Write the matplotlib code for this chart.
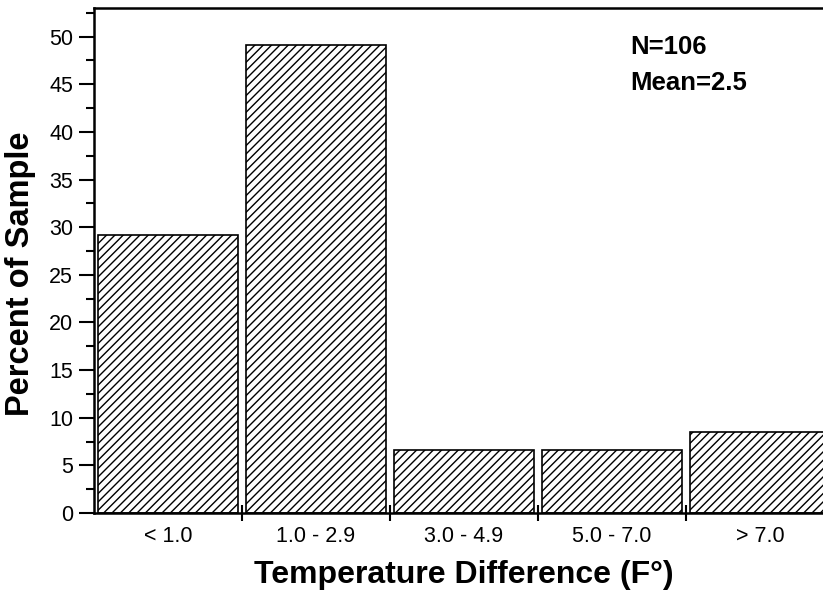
import matplotlib
matplotlib.use("Agg")
import matplotlib.pyplot as plt
from matplotlib.ticker import MultipleLocator

plt.rcParams['font.family'] = ['Liberation Sans', 'DejaVu Sans']
plt.rcParams['hatch.linewidth'] = 1.0

# data
categories = ['< 1.0', '1.0 - 2.9', '3.0 - 4.9', '5.0 - 7.0', '> 7.0']
percent = [29.2, 49.1, 6.6, 6.6, 8.5]
n_sample = 106
mean_diff = 2.5

fig = plt.figure(figsize=(8.23, 5.97), dpi=100)
# axes runs a little past the right edge, like the original
ax = fig.add_axes([94 / 823, 1 - 513 / 597, 740 / 823, 505 / 597])

x = list(range(len(categories)))
ax.bar(x, percent, width=0.95, color='white', edgecolor='black',
       linewidth=1.2, hatch='////')

ax.set_xlim(-0.5, len(categories) - 0.5)
ax.set_ylim(0, 53)

ax.yaxis.set_major_locator(MultipleLocator(5))
ax.yaxis.set_minor_locator(MultipleLocator(2.5))
ax.set_xticks([i + 0.5 for i in x])
ax.set_xticklabels([])
ax.set_xticks(x, minor=True)
ax.set_xticklabels(categories, minor=True)

ax.tick_params(axis='y', which='major', direction='out', length=11, width=1.5,
               labelsize=15.5, pad=4)
ax.tick_params(axis='y', which='minor', direction='out', length=6, width=1.5)
ax.tick_params(axis='x', which='major', direction='inout', length=12, width=1.5)
ax.tick_params(axis='x', which='minor', length=0, labelsize=15.5, pad=9)

for s in ax.spines.values():
    s.set_linewidth(1.8)

ax.set_xlabel('Temperature Difference (F°)', fontsize=23, fontweight='bold', labelpad=10)
ax.set_ylabel('Percent of Sample', fontsize=23.5, fontweight='bold')
ax.yaxis.set_label_coords(-0.079, 0.473)

ax.text(0.724, 0.909, 'N=%d' % n_sample, transform=ax.transAxes,
        fontsize=18.5, fontweight='bold')
ax.text(0.724, 0.837, 'Mean=%.1f' % mean_diff, transform=ax.transAxes,
        fontsize=18.5, fontweight='bold')

fig.savefig('out.png', dpi=100)
